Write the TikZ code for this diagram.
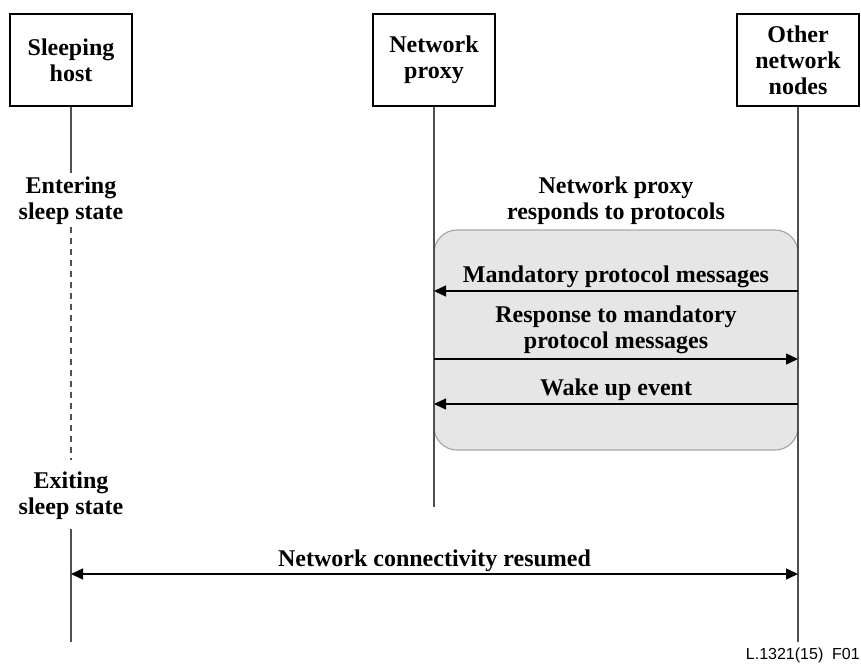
\documentclass[tikz,border=0pt]{standalone}
\usepackage{fontspec}
\setmainfont{Liberation Serif}
\newfontfamily\footfont{Liberation Sans}
\usetikzlibrary{arrows.meta}
\definecolor{lifegray}{HTML}{505050}
\definecolor{boxfill}{HTML}{E6E6E6}
\definecolor{boxdraw}{HTML}{A8A8A8}
\tikzset{
  lbl/.style={font=\fontsize{24}{26}\selectfont\bfseries, align=center, inner sep=0pt, anchor=base},
  hdr/.style={draw=black, line width=1.2pt, minimum width=122pt, minimum height=92pt, inner sep=0pt,
              font=\fontsize{24}{26}\selectfont\bfseries, align=center},
  life/.style={draw=lifegray, line width=1.3pt},
  lifedash/.style={life, dash pattern=on 6pt off 5pt},
  msg/.style={draw=black, line width=1.4pt, -{Triangle[length=12pt, width=11pt]}},
  msgboth/.style={draw=black, line width=1.4pt, {Triangle[length=12pt, width=11pt]}-{Triangle[length=12pt, width=11pt]}},
  region/.style={draw=boxdraw, fill=boxfill, line width=1.2pt, rounded corners=23pt}
}
\begin{document}
\begin{tikzpicture}[x=1pt, y=-1pt]
\useasboundingbox[fill=white] (0,0) rectangle (861,664);

% shaded region
\draw[region] (434,230) rectangle (798,450);

% header boxes
\node[hdr] (host) at (71,60) {Sleeping\\host};
\node[hdr] (proxy) at (434,60) {Network\\proxy};
\node[hdr] (other) at (798,60) {Other\\network\\nodes};

% lifeline coordinates
\coordinate (hostA) at (71,173);
\coordinate (hostB) at (71,227);
\coordinate (hostC) at (71,460);
\coordinate (hostD) at (71,529);
\coordinate (hostE) at (71,642);
\coordinate (proxyE) at (434,507);
\coordinate (otherE) at (798,642);

\draw[life] (host.south) -- (hostA);
\draw[lifedash] (hostB) -- (hostC);
\draw[life] (hostD) -- (hostE);
\draw[life] (proxy.south) -- (proxyE);
\draw[life] (other.south) -- (otherE);

% labels (base anchor = baseline of last line)
\node[lbl] (enter) at (71,219) {Entering\\sleep state};
\node[lbl] (exit) at (71,514) {Exiting\\sleep state};
\node[lbl] (resp) at (616,219) {Network proxy\\responds to protocols};

% messages
\coordinate (m1o) at (798,291);
\coordinate (m1p) at (434,291);
\coordinate (m2p) at (434,359);
\coordinate (m2o) at (798,359);
\coordinate (m3o) at (798,404);
\coordinate (m3p) at (434,404);
\coordinate (m4h) at (71,574);
\coordinate (m4o) at (798,574);

\draw[msg] (m1o) -- (m1p);
\draw[msg] (m2p) -- (m2o);
\draw[msg] (m3o) -- (m3p);
\draw[msgboth] (m4h) -- (m4o);

\node[lbl] (t1) at (616,282) {Mandatory protocol messages};
\node[lbl] (t2) at (616,348) {Response to mandatory\\protocol messages};
\node[lbl] (t3) at (616,395) {Wake up event};
\node[lbl] (t4) at (434.5,566) {Network connectivity resumed};

\node[font=\footfont\fontsize{16}{18}\selectfont, anchor=base east, inner sep=0pt] (fig) at (860,659) {L.1321(15)\ \ F01};
\end{tikzpicture}
\end{document}
